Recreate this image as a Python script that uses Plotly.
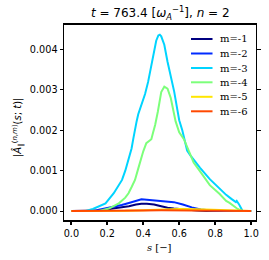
import plotly.graph_objects as go

# ---- data ----
labels = ["m=-1", "m=-2", "m=-3", "m=-4", "m=-5", "m=-6"]
colors = ["#000080", "#002bff", "#00d4ff", "#7cff7a", "#ffe600", "#ff4800"]

s_m1 = [0, 0.12, 0.16, 0.23, 0.28, 0.32, 0.36, 0.39, 0.42, 0.46, 0.50, 0.535, 0.57, 0.61, 0.66, 0.70, 0.75, 1.0]
a_m1 = [0, 0, 0.01, 0.06, 0.09, 0.12, 0.16, 0.18, 0.18, 0.16, 0.12, 0.08, 0.06, 0.04, 0.02, 0.01, 0, 0]

s_m2 = [0, 0.10, 0.14, 0.19, 0.23, 0.28, 0.32, 0.36, 0.39, 0.42, 0.48, 0.53, 0.57, 0.62, 0.67, 0.72, 0.78, 0.85, 1.0]
a_m2 = [0, 0, 0.02, 0.06, 0.10, 0.15, 0.20, 0.26, 0.29, 0.28, 0.26, 0.24, 0.22, 0.16, 0.09, 0.04, 0.01, 0, 0]

s_m3 = [0, 0.08, 0.12, 0.155, 0.19, 0.236, 0.26, 0.282, 0.30, 0.318,
        0.335, 0.345, 0.354, 0.363, 0.372, 0.38, 0.39, 0.41, 0.427, 0.44,
        0.454, 0.472, 0.484, 0.492, 0.50, 0.517, 0.535, 0.545, 0.56, 0.572,
        0.59, 0.60, 0.617, 0.644, 0.662, 0.68, 0.716, 0.77, 0.825, 0.861,
        0.89, 0.907, 0.915, 0.92, 0.925, 0.932, 0.945, 0.952, 1.0]
a_m3 = [0, 0, 0.05, 0.12, 0.19, 0.44, 0.60, 0.77, 1.00, 1.27,
        1.55, 1.80, 2.05, 2.22, 2.40, 2.50, 2.62, 2.90, 3.20, 3.50,
        3.85, 4.22, 4.35, 4.37, 4.33, 4.12, 3.70, 3.50, 3.20, 2.96,
        2.50, 2.25, 2.00, 1.50, 1.38, 1.27, 1.07, 0.79, 0.55, 0.40,
        0.30, 0.23, 0.22, 0.25, 0.22, 0.17, 0.06, 0, 0]

s_m4 = [0, 0.155, 0.209, 0.264, 0.30, 0.318, 0.336, 0.354, 0.372, 0.39,
        0.40, 0.417, 0.43, 0.445, 0.455, 0.466, 0.481, 0.50, 0.517, 0.535,
        0.553, 0.58, 0.60, 0.626, 0.662, 0.68, 0.716, 0.77, 0.825, 0.861,
        0.88, 0.925, 0.95, 1.0]
a_m4 = [0, 0, 0.06, 0.19, 0.33, 0.44, 0.60, 0.77, 1.05, 1.35,
        1.48, 1.68, 1.72, 1.78, 1.95, 2.13, 2.46, 2.95, 3.08, 3.03,
        2.80, 2.22, 1.95, 1.78, 1.40, 1.20, 0.98, 0.64, 0.42, 0.25,
        0.20, 0.05, 0, 0]

s_m5 = [0, 0.2, 0.3, 0.4, 0.5, 0.6, 0.7, 0.8, 0.9, 1.0]
a_m5 = [0, 0, 0.005, 0.02, 0.04, 0.05, 0.045, 0.03, 0.01, 0]

s_m6 = [0, 0.2, 0.3, 0.4, 0.5, 0.6, 0.7, 0.8, 1.0]
a_m6 = [0, 0, 0.005, 0.015, 0.02, 0.015, 0.008, 0.003, 0]

series_s = [s_m1, s_m2, s_m3, s_m4, s_m5, s_m6]
series_a = [a_m1, a_m2, a_m3, a_m4, a_m5, a_m6]
scale = 1e-3

x_ticks = [0.0, 0.2, 0.4, 0.6, 0.8, 1.0]
y_ticks = [0.000, 0.001, 0.002, 0.003, 0.004]

# ---- figure ----
fig = go.Figure()
for s, a, name, c in zip(series_s, series_a, labels, colors):
    assert len(s) == len(a)
    fig.add_trace(go.Scatter(x=s, y=[v * scale for v in a], mode="lines", name=name,
                             line=dict(color=c, width=2), showlegend=False))

# plot-area geometry in pixels (for legend / labels placement)
L, R, T, B = 64, 260.5, 25, 220
W, H = R - L, B - T
def px(x): return (x - L) / W
def py(y): return (B - y) / H

shapes = []
annotations = []
leg_y = [39, 53.5, 68, 82.3, 96.8, 111.3]
for yy, name, c in zip(leg_y, labels, colors):
    shapes.append(dict(type="line", xref="paper", yref="paper", x0=px(194), x1=px(216),
                       y0=py(yy), y1=py(yy), line=dict(color=c, width=2)))
    annotations.append(dict(text=name, xref="paper", yref="paper", x=px(222), y=py(yy),
                            xanchor="left", yanchor="middle", showarrow=False,
                            font=dict(family="DejaVu Serif", size=10, color="black")))

annotations.append(dict(text="|<i>Â</i><sub>∥</sub><sup>(<i>n</i>,<i>m</i>)</sup>(<i>s</i>; <i>t</i>)|",
                        xref="paper", yref="paper", x=px(17), y=py(127), textangle=-90,
                        xanchor="center", yanchor="middle", showarrow=False,
                        font=dict(family="DejaVu Sans", size=10, color="black")))
annotations.append(dict(text="<i>s</i> [−]", xref="paper", yref="paper", x=px(162), y=py(247),
                        xanchor="center", yanchor="middle", showarrow=False,
                        font=dict(family="DejaVu Serif", size=10, color="black")))

fig.update_layout(
    width=269, height=260,
    margin=dict(l=L, r=269 - R, t=T, b=260 - B),
    paper_bgcolor="white", plot_bgcolor="white",
    title=dict(text="<i>t</i> = 763.4 [<i>ω</i><sub><i>A</i></sub><sup>−1</sup>], <i>n</i> = 2",
               x=px(162.5), xref="paper", xanchor="center", y=1 - 13 / 260, yanchor="middle",
               font=dict(family="DejaVu Sans", size=12, color="black")),
    shapes=shapes, annotations=annotations,
    xaxis=dict(range=[-0.0408, 1.027], tickvals=x_ticks, ticktext=[f"{v:.1f}" for v in x_ticks],
               showgrid=False, zeroline=False, showline=True, mirror=True, linecolor="black",
               linewidth=1.5, ticks="outside", ticklen=3.5, tickcolor="black", tickwidth=1.5,
               tickfont=dict(family="DejaVu Sans", size=9.7, color="black")),
    yaxis=dict(range=[-0.000223, 0.00461], tickvals=y_ticks, ticktext=[f"{v:.3f}" for v in y_ticks],
               showgrid=False, zeroline=False, showline=True, mirror="allticks", linecolor="black",
               linewidth=1, ticks="outside", ticklen=3.5, tickcolor="black", tickwidth=1,
               tickfont=dict(family="DejaVu Sans", size=9.7, color="black")),
)

fig.write_html("out.html", config={"displayModeBar": False},
               post_script="document.body.style.margin='0';document.body.style.overflow='hidden';")
